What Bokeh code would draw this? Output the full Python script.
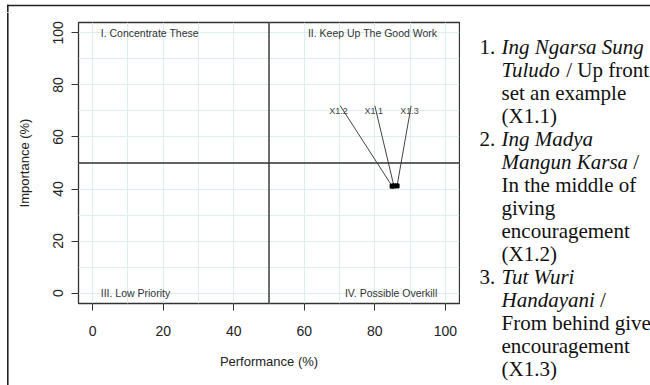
from bokeh.plotting import figure
from bokeh.layouts import column, row
from bokeh.models import Range1d, FixedTicker, Span, ColumnDataSource
from bokeh.core.properties import value
from bokeh.embed import file_html
from bokeh.resources import INLINE

# Importance-performance values of the three leadership items
items = ["X1.1", "X1.2", "X1.3"]
performance = [85.4, 84.9, 86.3]
importance = [41.2, 41.1, 41.2]

# where each item's tag sits, and where its leader line starts
label_x = [79.7, 69.7, 89.8]
label_y = [70, 70, 70]
leader_x = [80.0, 70.2, 90.3]
leader_y = [72, 72, 72]

quadrant_names = ["I. Concentrate These", "II. Keep Up The Good Work",
                  "III. Low Priority", "IV. Possible Overkill"]
quadrant_x = [2.3, 97.7, 2.3, 97.7]
quadrant_y = [100, 100, 0, 0]
quadrant_align = ["left", "right", "left", "right"]

axis_ticks = [0, 20, 40, 60, 80, 100]
grid_ticks = list(range(0, 101, 10))
cut_performance = 50
cut_importance = 50

# numbered notes beside the chart: (number, italic part, roman part)
notes = [
    ("1.", "Ing Ngarsa Sung", ""),
    ("", "Tuludo", "/ Up front"),
    ("", "", "set an example"),
    ("", "", "(X1.1)"),
    ("2.", "Ing Madya", ""),
    ("", "Mangun Karsa", "/"),
    ("", "", "In the middle of"),
    ("", "", "giving"),
    ("", "", "encouragement"),
    ("", "", "(X1.2)"),
    ("3.", "Tut Wuri", ""),
    ("", "Handayani", "/"),
    ("", "", "From behind give"),
    ("", "", "encouragement"),
    ("", "", "(X1.3)"),
]

# page geometry (canvas pixels)
W, H = 650, 385
TOP_STRIP, LEFT_STRIP, NOTES_W = 12, 9, 190
RULE_X, RULE_Y, RULE_W = 7.3, 5, 1.6
FRAME_LEFT, FRAME_RIGHT, FRAME_TOP, FRAME_BOTTOM = 78, 459, 22, 303
BODY_H = H - TOP_STRIP
PLOT_W = W - LEFT_STRIP - NOTES_W
RULE_COLOR = "#222222"


def no_frame_align(f):
    # keep every panel's frame where its own borders put it
    if "frame_align" in f.properties():
        f.frame_align = False
    return f


def blank(width, height):
    # a bare panel whose data units are its own pixels, y counted downward
    f = figure(width=width, height=height, output_backend="svg", toolbar_location=None,
               x_range=Range1d(0, width), y_range=Range1d(height, 0),
               x_axis_type=None, y_axis_type=None, min_border=0)
    f.title = None
    f.xgrid.visible = False
    f.ygrid.visible = False
    f.outline_line_color = None
    f.background_fill_color = "white"
    f.border_fill_color = "white"
    return no_frame_align(f)


h = RULE_W / 2
# top and left page rules, drawn as thin filled bars
top = blank(W, TOP_STRIP)
top.quad(left=[RULE_X - h, RULE_X - h], right=[W, RULE_X + h],
         top=[RULE_Y - h, RULE_Y - h], bottom=[RULE_Y + h, TOP_STRIP],
         fill_color=RULE_COLOR, line_color=None)
left = blank(LEFT_STRIP, BODY_H)
left.quad(left=[RULE_X - h], right=[RULE_X + h], top=[0], bottom=[BODY_H],
          fill_color=RULE_COLOR, line_color=None)

# the importance-performance chart
fl = FRAME_LEFT - LEFT_STRIP
fr = FRAME_RIGHT - LEFT_STRIP
ft = FRAME_TOP - TOP_STRIP
fb = FRAME_BOTTOM - TOP_STRIP
p = figure(width=PLOT_W, height=BODY_H, output_backend="svg", toolbar_location=None,
           x_range=Range1d(-4, 104), y_range=Range1d(-4, 104),
           min_border_left=fl, min_border_right=PLOT_W - fr,
           min_border_top=ft, min_border_bottom=BODY_H - fb)
no_frame_align(p)
p.title = None
p.background_fill_color = "white"
p.border_fill_color = "white"
p.outline_line_color = "#333333"
p.outline_line_width = 1.3

for ax, name in ((p.xaxis[0], "Performance (%)"), (p.yaxis[0], "Importance (%)")):
    ax.ticker = FixedTicker(ticks=axis_ticks)
    ax.axis_label = name
    ax.axis_label_text_font = "Liberation Sans"
    ax.axis_label_text_font_style = "normal"
    ax.axis_label_text_font_size = "13px"
    ax.axis_label_text_color = "#222222"
    ax.major_label_text_font = "Liberation Sans"
    ax.major_label_text_font_size = "14px"
    ax.major_label_text_color = "#222222"
    ax.axis_line_color = None
    ax.major_tick_line_color = "#333333"
    ax.major_tick_in = 0
    ax.major_tick_out = 7
    ax.minor_tick_line_color = None

p.xaxis.major_label_standoff = 15
p.xaxis.axis_label_standoff = 15
p.yaxis.major_label_orientation = "vertical"
p.yaxis.major_label_standoff = 8
p.yaxis.axis_label_standoff = 19

for g in (p.xgrid[0], p.ygrid[0]):
    g.ticker = FixedTicker(ticks=grid_ticks)
    g.grid_line_color = "#dcefef"
    g.grid_line_width = 1

# quadrant dividers
p.add_layout(Span(location=cut_performance, dimension="height",
                  line_color="#333333", line_width=1.4))
p.add_layout(Span(location=cut_importance, dimension="width",
                  line_color="#333333", line_width=1.4))

quad = ColumnDataSource(dict(x=quadrant_x, y=quadrant_y, t=quadrant_names, a=quadrant_align))
p.text(x="x", y="y", text="t", text_align="a", source=quad,
       text_baseline="middle", text_font=value("Liberation Sans"),
       text_font_size="10.5px", text_color="#333333")

pts = ColumnDataSource(dict(x=performance, y=importance, lx=label_x, ly=label_y,
                            sx=leader_x, sy=leader_y, t=items))
p.segment(x0="sx", y0="sy", x1="x", y1="y", source=pts,
          line_color="#444444", line_width=1)
p.text(x="lx", y="ly", text="t", source=pts, text_align="center",
       text_baseline="middle", text_font=value("Liberation Sans"),
       text_font_size="9px", text_color="#444444")
p.scatter(x="x", y="y", source=pts, marker="square", size=4,
          fill_color="black", line_color="black")

# notes column; positions in pixels from the column's top-left
ITALIC_ADV = {"T": 556, "u": 500, "l": 278, "d": 500, "o": 500, "M": 833, "a": 500,
              "n": 500, "g": 500, " ": 250, "K": 667, "r": 389, "s": 389, "H": 722,
              "y": 444, "i": 278, "I": 333, "N": 667, "S": 500, "W": 833}
FS = 21
NUM_X, TEXT_X = 479 - (W - NOTES_W), 501 - (W - NOTES_W)
BASE0, LEAD = 46 - TOP_STRIP, 23.04

nx, ny, nt, ns = [], [], [], []
for i, (num, ital, roman) in enumerate(notes):
    cy = BASE0 + i * LEAD
    if num:
        nx.append(NUM_X); ny.append(cy); nt.append(num); ns.append("normal")
    cx = TEXT_X
    if ital:
        nx.append(cx); ny.append(cy); nt.append(ital); ns.append("italic")
        cx += (sum(ITALIC_ADV.get(c, 500) for c in ital) + 250) * FS / 1000
    if roman:
        nx.append(cx); ny.append(cy); nt.append(roman); ns.append("normal")

side = blank(NOTES_W, BODY_H)
side.text(x="x", y="y", text="t", text_font_style="s",
          source=ColumnDataSource(dict(x=nx, y=ny, t=nt, s=ns)),
          text_font=value("Liberation Serif"), text_font_size=f"{FS}px",
          text_color="#111111", text_align="left", text_baseline="alphabetic")

page = column(top, row(left, p, side, spacing=0), spacing=0)
open("out.html", "w").write(file_html(page, INLINE))
